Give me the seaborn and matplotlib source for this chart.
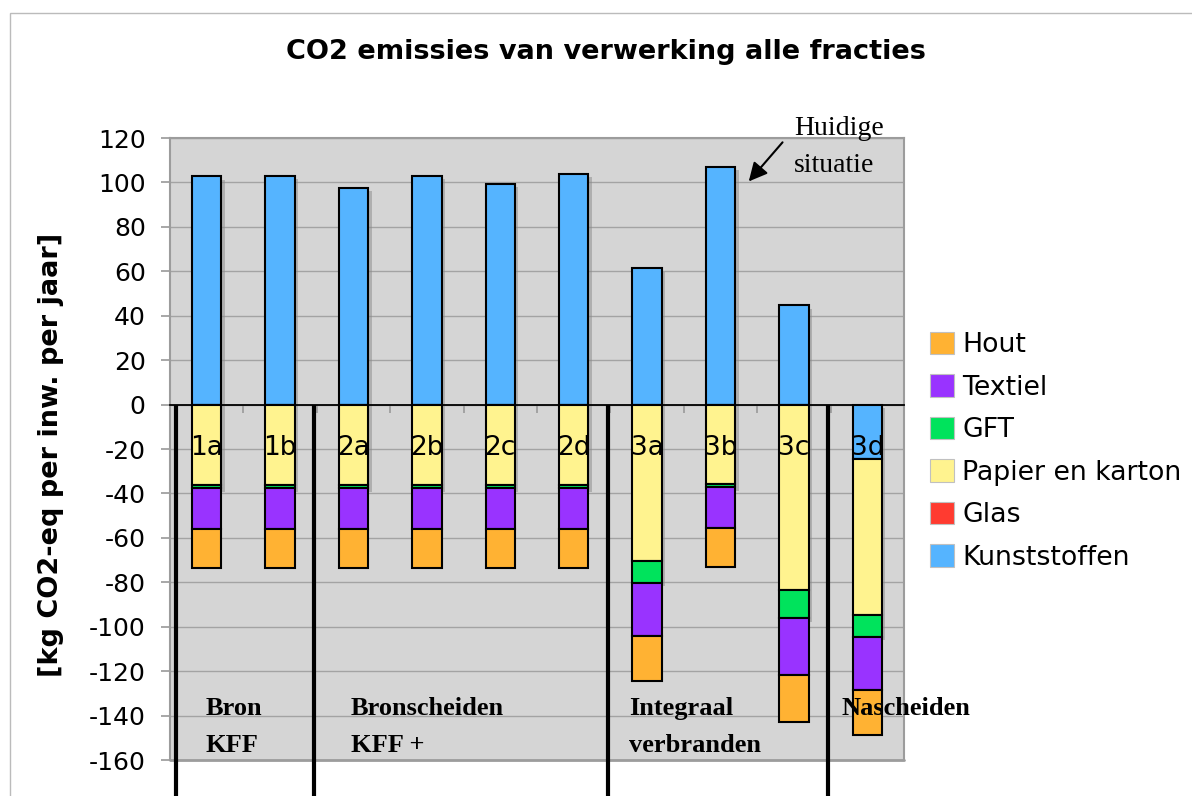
import matplotlib
matplotlib.use("Agg")
import numpy as np
import matplotlib.pyplot as plt
import matplotlib.patheffects as pe
from matplotlib.patches import Patch, Rectangle
import seaborn as sns

## Data (kg CO2-eq per inwoner per jaar)
scenarios = ["1a", "1b", "2a", "2b", "2c", "2d", "3a", "3b", "3c", "3d"]
kunststoffen = [102.8, 103.1, 97.6, 103.1, 99.3, 103.9, 61.3, 107.0, 44.6, -24.3]
glas = [0, 0, 0, 0, 0, 0, 0, 0, 0, 0]
papier = [-36.2, -36.2, -36.2, -36.2, -36.2, -36.2, -70.4, -35.8, -83.4, -70.4]
gft = [-1.5, -1.5, -1.5, -1.5, -1.5, -1.5, -9.9, -1.5, -12.9, -9.9]
textiel = [-18.1, -18.1, -18.1, -18.1, -18.1, -18.1, -23.8, -18.1, -25.6, -23.8]
hout = [-17.6, -17.6, -17.6, -17.6, -17.6, -17.6, -20.2, -17.6, -20.9, -20.2]

series_names = ["Kunststoffen", "Glas", "Papier en karton", "GFT", "Textiel", "Hout"]
series_colors = ["#55b4ff", "#ff3b30", "#fff38f", "#00e35c", "#9933ff", "#ffb233"]

groups = ["Bron\nKFF", "Bronscheiden\nKFF +", "Integraal\nverbranden", "Nascheiden"]

sns.set_theme(style="white")
plt.rcParams["font.family"] = ["DejaVu Sans"]
plt.rcParams["axes.unicode_minus"] = False
plt.rcParams["text.color"] = "black"
plt.rcParams["axes.labelcolor"] = "black"
plt.rcParams["ytick.color"] = "black"

fig = plt.figure(figsize=(11.92, 7.96), dpi=100)
ax = fig.add_axes([170 / 1192, 1 - 760 / 796, (904 - 170) / 1192, (760 - 138) / 796])
ax.set_facecolor("#d5d5d5")

# stacked bars: positive kunststoffen from 0, negatives stacked below
values = [kunststoffen, glas, papier, gft, textiel, hout]
base = np.minimum(np.array(kunststoffen, dtype=float), 0)
shadow = [pe.SimplePatchShadow(offset=(2.5, -2.5), shadow_rgbFace="#8a8a8a", alpha=0.5), pe.Normal()]
for i, (name, vals, col) in enumerate(zip(series_names, values, series_colors)):
    vals = np.array(vals, dtype=float)
    if i == 0:
        bottom = np.zeros(len(vals))
    else:
        bottom = base.copy()
        base = base + vals
    sns.barplot(x=scenarios, y=vals, bottom=bottom, color=col, saturation=1, width=0.4,
                edgecolor="black", linewidth=1.5, errorbar=None, ax=ax, zorder=3)
    if name in ("Kunststoffen", "Papier en karton", "GFT"):
        for p in ax.containers[-1]:
            p.set_path_effects(shadow)

ax.set_xlim(-0.5, len(scenarios) - 0.5)
ax.set_ylim(-160, 120)
ax.set_yticks(range(-160, 121, 20))
ax.yaxis.grid(True, color="#a3a3a3", lw=1)
ax.set_axisbelow(True)
ax.axhline(-160, color="#9c9c9c", lw=2, clip_on=False, zorder=1)

ax.spines["bottom"].set_position(("data", 0))
ax.spines["bottom"].set_color("black")
ax.spines["bottom"].set_linewidth(1.3)
ax.spines["bottom"].set_zorder(4)
for s in ["left", "top", "right"]:
    ax.spines[s].set_color("#9c9c9c")
    ax.spines[s].set_linewidth(1.5)

ax.set_xticks(np.arange(0.5, len(scenarios) - 0.5, 1))
ax.set_xticklabels([])
ax.set_xlabel("")
ax.tick_params(axis="x", bottom=True, length=6, color="#9c9c9c", direction="out")
ax.tick_params(axis="y", left=True, length=6.5, color="#9c9c9c", labelcolor="black",
               labelsize=18, pad=11)

# scenario labels on the bars
for i, s in enumerate(scenarios):
    ax.text(i, -19.5, s, ha="center", va="center", fontsize=19, zorder=6)

# group dividers and names
ax.vlines([-0.42, 1.465, 5.465, 8.465], 0, -185, colors="black", lw=3, clip_on=False, zorder=5)
for x, lab in zip([-0.02, 1.96, 5.76, 8.65], groups):
    ax.text(x, -131.5, lab, ha="left", va="top", family="Liberation Serif", weight="bold",
            fontsize=19, linespacing=1.8, zorder=6)

# current situation marker
ax.annotate("", xy=(7.36, 99.5), xytext=(7.87, 119),
            arrowprops=dict(arrowstyle="-|>", color="black", lw=1.5, mutation_scale=28),
            annotation_clip=False)
ax.text(8.0, 116.0, "Huidige\nsituatie", ha="left", va="center", family="Liberation Serif",
        fontsize=20, linespacing=1.65, clip_on=False)

ax.set_ylabel("[kg CO2-eq per inw. per jaar]", fontsize=19.5, weight="bold")
ax.yaxis.set_label_coords(-0.145, 0.49)

fig.text(606 / 1192, 1 - 52 / 796, "CO2 emissies van verwerking alle fracties",
         ha="center", va="center", fontsize=19.5, weight="bold")

handles = [Patch(facecolor=c, edgecolor="#c0c0c0", lw=0.8) for c in series_colors][::-1]
fig.legend(handles, series_names[::-1], loc="upper left", bbox_to_anchor=(930 / 1192, 1 - 332 / 796),
           frameon=False, fontsize=19.3, handlelength=0.9, handleheight=0.9, handletextpad=0.3,
           labelspacing=0.6, borderpad=0, borderaxespad=0)

fig.add_artist(Rectangle((10 / 1192, -0.1), 1.2, 1 - 13 / 796 + 0.1, transform=fig.transFigure,
                         fill=False, edgecolor="#bbbbbb", lw=1))

fig.savefig("out.png", dpi=100)
